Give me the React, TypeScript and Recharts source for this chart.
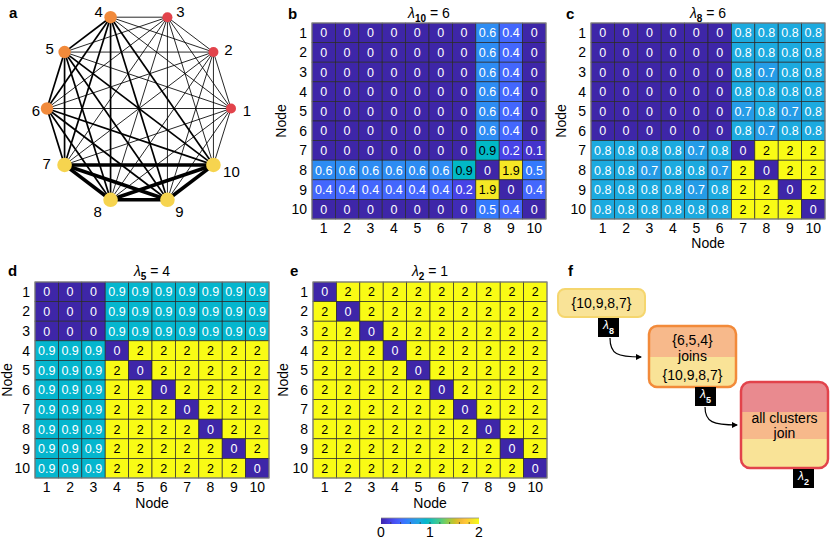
import React from 'react';
import {
  ScatterChart,
  Scatter,
  XAxis,
  YAxis,
  Area,
  ComposedChart,
} from 'recharts';

const FONT = '"Liberation Sans", Arial, Helvetica, sans-serif';

// ---------- Panel a: network ----------
const nodeIds = [1, 2, 3, 4, 5, 6, 7, 8, 9, 10];
const nodeAngleDeg = [0, 36, 72, 108, 144, 180, 216, 252, 288, 324];
const nodeCluster = [0, 0, 0, 1, 1, 1, 2, 2, 2, 2];
// edge strength class between clusters (1 = weak, 2 = medium, 3 = strong)
const clusterLinkClass = [
  [1, 1, 1],
  [1, 2, 2],
  [1, 2, 3],
];

// ---------- Heatmaps ----------
const nodeTicks = [1, 2, 3, 4, 5, 6, 7, 8, 9, 10];

const lambda10Matrix = [
  [0, 0, 0, 0, 0, 0, 0, 0.6, 0.4, 0],
  [0, 0, 0, 0, 0, 0, 0, 0.6, 0.4, 0],
  [0, 0, 0, 0, 0, 0, 0, 0.6, 0.4, 0],
  [0, 0, 0, 0, 0, 0, 0, 0.6, 0.4, 0],
  [0, 0, 0, 0, 0, 0, 0, 0.6, 0.4, 0],
  [0, 0, 0, 0, 0, 0, 0, 0.6, 0.4, 0],
  [0, 0, 0, 0, 0, 0, 0, 0.94, 0.2, 0.1],
  [0.6, 0.6, 0.6, 0.6, 0.6, 0.6, 0.94, 0, 1.9, 0.5],
  [0.4, 0.4, 0.4, 0.4, 0.4, 0.4, 0.2, 1.9, 0, 0.4],
  [0, 0, 0, 0, 0, 0, 0.04, 0.5, 0.4, 0],
];

const lambda8Matrix = [
  [0, 0, 0, 0, 0, 0, 0.8, 0.8, 0.8, 0.8],
  [0, 0, 0, 0, 0, 0, 0.8, 0.8, 0.8, 0.8],
  [0, 0, 0, 0, 0, 0, 0.8, 0.7, 0.8, 0.8],
  [0, 0, 0, 0, 0, 0, 0.8, 0.8, 0.8, 0.8],
  [0, 0, 0, 0, 0, 0, 0.7, 0.8, 0.7, 0.8],
  [0, 0, 0, 0, 0, 0, 0.8, 0.7, 0.8, 0.8],
  [0.8, 0.8, 0.8, 0.8, 0.7, 0.8, 0, 2, 2, 2],
  [0.8, 0.8, 0.7, 0.8, 0.8, 0.7, 2, 0, 2, 2],
  [0.8, 0.8, 0.8, 0.8, 0.7, 0.8, 2, 2, 0, 2],
  [0.8, 0.8, 0.8, 0.8, 0.8, 0.8, 2, 2, 2, 0],
];

const lambda5Matrix = [
  [0, 0, 0, 0.9, 0.9, 0.9, 0.9, 0.9, 0.9, 0.9],
  [0, 0, 0, 0.9, 0.9, 0.9, 0.9, 0.9, 0.9, 0.9],
  [0, 0, 0, 0.9, 0.9, 0.9, 0.9, 0.9, 0.9, 0.9],
  [0.9, 0.9, 0.9, 0, 2, 2, 2, 2, 2, 2],
  [0.9, 0.9, 0.9, 2, 0, 2, 2, 2, 2, 2],
  [0.9, 0.9, 0.9, 2, 2, 0, 2, 2, 2, 2],
  [0.9, 0.9, 0.9, 2, 2, 2, 0, 2, 2, 2],
  [0.9, 0.9, 0.9, 2, 2, 2, 2, 0, 2, 2],
  [0.9, 0.9, 0.9, 2, 2, 2, 2, 2, 0, 2],
  [0.9, 0.9, 0.9, 2, 2, 2, 2, 2, 2, 0],
];

const lambda2Matrix = [
  [0, 2, 2, 2, 2, 2, 2, 2, 2, 2],
  [2, 0, 2, 2, 2, 2, 2, 2, 2, 2],
  [2, 2, 0, 2, 2, 2, 2, 2, 2, 2],
  [2, 2, 2, 0, 2, 2, 2, 2, 2, 2],
  [2, 2, 2, 2, 0, 2, 2, 2, 2, 2],
  [2, 2, 2, 2, 2, 0, 2, 2, 2, 2],
  [2, 2, 2, 2, 2, 2, 0, 2, 2, 2],
  [2, 2, 2, 2, 2, 2, 2, 0, 2, 2],
  [2, 2, 2, 2, 2, 2, 2, 2, 0, 2],
  [2, 2, 2, 2, 2, 2, 2, 2, 2, 0],
];

const colorbarTicks = [0, 1, 2];
const colorbarMinorTicks = [0.2, 0.4, 0.6, 0.8, 1.0, 1.2, 1.4, 1.6, 1.8];
const colorbarRange = [0, 2];

// ---------- Parula colormap ----------
const PARULA: number[][] = [
  [0.2422, 0.1504, 0.6603], [0.2504, 0.165, 0.7076], [0.2578, 0.1818, 0.7511], [0.2647, 0.1978, 0.7952],
  [0.2706, 0.2147, 0.8364], [0.2751, 0.2342, 0.871], [0.2783, 0.2559, 0.8991], [0.2803, 0.2782, 0.9221],
  [0.2813, 0.3006, 0.9414], [0.281, 0.3228, 0.9579], [0.2795, 0.3447, 0.9717], [0.276, 0.3667, 0.9829],
  [0.2699, 0.3892, 0.9906], [0.2602, 0.4123, 0.9952], [0.244, 0.4358, 0.9988], [0.2206, 0.4603, 0.9973],
  [0.1963, 0.4847, 0.9892], [0.1834, 0.5074, 0.9798], [0.1786, 0.5289, 0.9682], [0.1764, 0.5499, 0.952],
  [0.1687, 0.5703, 0.9359], [0.154, 0.5902, 0.9218], [0.146, 0.6091, 0.9079], [0.138, 0.6276, 0.8973],
  [0.1248, 0.6459, 0.8883], [0.1113, 0.6635, 0.8763], [0.0952, 0.6798, 0.8598], [0.0689, 0.6948, 0.8394],
  [0.0297, 0.7082, 0.8163], [0.0036, 0.7203, 0.7917], [0.0067, 0.7312, 0.766], [0.0433, 0.7411, 0.7394],
  [0.0964, 0.75, 0.712], [0.1408, 0.7584, 0.6842], [0.1717, 0.767, 0.6554], [0.1938, 0.7758, 0.6251],
  [0.2161, 0.7843, 0.5923], [0.247, 0.7918, 0.5567], [0.2906, 0.7973, 0.5188], [0.3406, 0.8008, 0.4789],
  [0.3909, 0.8029, 0.4354], [0.4456, 0.8024, 0.3909], [0.5044, 0.7993, 0.348], [0.5616, 0.7942, 0.3045],
  [0.6174, 0.7876, 0.2612], [0.672, 0.7793, 0.2227], [0.7242, 0.7698, 0.191], [0.7738, 0.7598, 0.1646],
  [0.8203, 0.7498, 0.1535], [0.8634, 0.7406, 0.1596], [0.9035, 0.733, 0.1774], [0.9393, 0.7288, 0.21],
  [0.9728, 0.7298, 0.2394], [0.9956, 0.7434, 0.2371], [0.997, 0.7659, 0.2199], [0.9952, 0.7893, 0.2028],
  [0.9892, 0.8136, 0.1885], [0.9786, 0.8386, 0.1766], [0.9676, 0.8639, 0.1643], [0.961, 0.889, 0.1537],
  [0.9597, 0.9135, 0.1423], [0.9628, 0.9373, 0.1265], [0.9691, 0.9606, 0.1064], [0.9769, 0.9839, 0.0805],
];

function parula(t: number): string {
  const tt = Math.max(0, Math.min(1, t));
  const f = tt * (PARULA.length - 1);
  const i = Math.min(PARULA.length - 2, Math.floor(f));
  const fr = f - i;
  const c = PARULA[i].map((v, k) => v + (PARULA[i + 1][k] - v) * fr);
  return `rgb(${Math.round(c[0] * 255)},${Math.round(c[1] * 255)},${Math.round(c[2] * 255)})`;
}

function fmt(v: number): string {
  return String(Number(v.toFixed(1)));
}

// ---------- Panel a chart ----------
const nodePoints = nodeIds.map((id, i) => ({
  id,
  cluster: nodeCluster[i],
  x: Math.cos((nodeAngleDeg[i] * Math.PI) / 180),
  y: Math.sin((nodeAngleDeg[i] * Math.PI) / 180),
}));

const edges: { a: number; b: number; cls: number }[] = [];
for (let i = 0; i < nodeIds.length; i++) {
  for (let j = i + 1; j < nodeIds.length; j++) {
    edges.push({ a: i, b: j, cls: clusterLinkClass[nodeCluster[i]][nodeCluster[j]] });
  }
}
edges.sort((p, q) => p.cls - q.cls);

const EDGE_WIDTH: Record<number, number> = { 1: 0.85, 2: 1.7, 3: 3.6 };
const NODE_COLOR = ['#e2434b', '#f18a3b', '#f6d44f'];
const NODE_R = [5, 6.2, 7.3];
const LABEL_OFFSET: Record<number, [number, number]> = {
  1: [16, 2], 2: [15, -2], 3: [13, -6], 4: [-12, -6], 5: [-15, -3],
  6: [-11, 2], 7: [-18, -1], 8: [-13, 12], 9: [12, 12], 10: [18, 7],
};

const EmptyShape = () => <g />;

const NodeShape = (props: any) => {
  const { cx, cy, payload } = props;
  const off = LABEL_OFFSET[payload.id];
  return (
    <g>
      <circle cx={cx} cy={cy} r={NODE_R[payload.cluster]} fill={NODE_COLOR[payload.cluster]} />
      <text x={cx + off[0]} y={cy + off[1]} dy="0.36em" textAnchor="middle" fontSize={15} fill="#000">
        {payload.id}
      </text>
    </g>
  );
};

function NetworkPanel() {
  return (
    <div style={{ position: 'absolute', left: 0, top: 0 }}>
      <ScatterChart width={270} height={230} margin={{ top: 2.9, right: 11.4, left: 19.4, bottom: 15.9 }}>
        <XAxis type="number" dataKey="x" domain={[-1.3, 1.3]} hide />
        <YAxis type="number" dataKey="y" domain={[-1.1, 1.1]} hide />
        {edges.map((e, k) => (
          <Scatter
            key={`e${k}`}
            data={[nodePoints[e.a], nodePoints[e.b]]}
            line={{ stroke: '#000', strokeWidth: EDGE_WIDTH[e.cls] }}
            shape={EmptyShape}
            isAnimationActive={false}
          />
        ))}
        <Scatter data={nodePoints} shape={NodeShape} isAnimationActive={false} />
      </ScatterChart>
    </div>
  );
}

// ---------- Heatmap ----------
const GRID_W = 234;
const GRID_H = 196;
const CELL_W = GRID_W / 10;
const CELL_H = GRID_H / 10;

const CellShape = (props: any) => {
  const { cx, cy, payload } = props;
  const v = payload.v;
  return (
    <g>
      <rect
        x={cx - CELL_W / 2}
        y={cy - CELL_H / 2}
        width={CELL_W}
        height={CELL_H}
        fill={parula(v / 2)}
        stroke="#2a2a2a"
        strokeWidth={0.7}
      />
      <text x={cx} y={cy} dy="0.36em" textAnchor="middle" fontSize={12.5} fill={v >= 0.92 ? '#000' : '#fff'}>
        {fmt(v)}
      </text>
    </g>
  );
};

function Heatmap({ matrix, left, top }: { matrix: number[][]; left: number; top: number }) {
  const data: { x: number; y: number; v: number }[] = [];
  matrix.forEach((row, r) => row.forEach((v, c) => data.push({ x: c + 1, y: r + 1, v })));
  return (
    <div style={{ position: 'absolute', left: left - 40, top: top - 2 }}>
      <ScatterChart width={40 + GRID_W + 4} height={2 + GRID_H + 30} margin={{ top: 2, right: 4, left: 0, bottom: 0 }}>
        <XAxis
          type="number"
          dataKey="x"
          domain={[0.5, 10.5]}
          ticks={nodeTicks}
          interval={0}
          axisLine={false}
          tickLine={false}
          tickSize={0}
          tickMargin={4}
          height={30}
          tick={{ fontSize: 14, fill: '#000' }}
        />
        <YAxis
          type="number"
          dataKey="y"
          domain={[0.5, 10.5]}
          reversed
          ticks={nodeTicks}
          interval={0}
          axisLine={false}
          tickLine={false}
          tickSize={0}
          tickMargin={5}
          width={40}
          tick={{ fontSize: 14, fill: '#000' }}
        />
        <Scatter data={data} shape={CellShape} isAnimationActive={false} />
      </ScatterChart>
    </div>
  );
}

// ---------- Colorbar ----------
const MinorTickShape = (props: any) => {
  const { cx, cy } = props;
  return <line x1={cx} x2={cx} y1={cy} y2={cy - 2} stroke="#333" strokeWidth={0.7} />;
};

function Colorbar() {
  const barData = [
    { x: colorbarRange[0], v: 1 },
    { x: colorbarRange[1], v: 1 },
  ];
  const tickData = colorbarMinorTicks.map((t) => ({ x: t, v: 0 }));
  return (
    <div style={{ position: 'absolute', left: 370, top: 505 }}>
      <ComposedChart width={120} height={35} margin={{ top: 13, right: 11, left: 11, bottom: 0 }} data={barData}>
        <XAxis
          type="number"
          dataKey="x"
          domain={colorbarRange}
          ticks={colorbarTicks}
          interval={0}
          axisLine={false}
          tickLine={false}
          tickSize={0}
          tickMargin={3}
          height={16}
          tick={{ fontSize: 14, fill: '#000' }}
        />
        <YAxis type="number" dataKey="v" domain={[0, 1]} hide />
        <Area
          type="linear"
          dataKey="v"
          baseValue={0}
          fill="url(#parulaGrad)"
          fillOpacity={1}
          stroke="#8c8c8c"
          strokeWidth={0.8}
          isAnimationActive={false}
          dot={false}
          activeDot={false}
        />
        <Scatter data={tickData} dataKey="v" shape={MinorTickShape} isAnimationActive={false} />
      </ComposedChart>
    </div>
  );
}

// ---------- Overlay text & panel f ----------
function LambdaTitle({ x, y, sub, rest }: { x: number; y: number; sub: string; rest: string }) {
  return (
    <text x={x} y={y} textAnchor="middle" fontSize={14} fill="#000">
      <tspan fontStyle="italic">λ</tspan>
      <tspan dy={4} fontSize={10} fontWeight="bold">{sub}</tspan>
      <tspan dy={-4}>{'\u00a0= ' + rest}</tspan>
    </text>
  );
}

function Tag({ x, y, sub }: { x: number; y: number; sub: string }) {
  return (
    <g>
      <rect x={x} y={y} width={21} height={19} fill="#000" />
      <text x={x + 5} y={y + 11} fontSize={12} fill="#fff">
        <tspan fontStyle="italic">λ</tspan>
        <tspan dy={5} fontSize={9} fontWeight="bold">{sub}</tspan>
      </text>
    </g>
  );
}

function NodeLabelY({ cx, cy }: { cx: number; cy: number }) {
  return (
    <text transform={`translate(${cx},${cy}) rotate(-90)`} textAnchor="middle" dy="0.36em" fontSize={14} fill="#000">
      Node
    </text>
  );
}

function Overlay() {
  const Y = '#f9e397';
  const O = '#f7b98b';
  const P = '#e98a8f';
  const stops = [];
  for (let k = 0; k <= 20; k++) {
    stops.push(<stop key={k} offset={`${k * 5}%`} stopColor={parula(k / 20)} />);
  }
  return (
    <svg width={831} height={540} style={{ position: 'absolute', left: 0, top: 0, pointerEvents: 'none' }} fontFamily={FONT}>
      <defs>
        <linearGradient id="parulaGrad" x1="0" y1="0" x2="1" y2="0">
          {stops}
        </linearGradient>
        <marker id="arrowHead" markerWidth="6" markerHeight="6" refX="5" refY="3" orient="auto" markerUnits="userSpaceOnUse">
          <path d="M0,0 L6,3 L0,6 z" fill="#000" />
        </marker>
        <clipPath id="clipB2"><rect x={649} y={326} width={87} height={61} rx={8} /></clipPath>
        <clipPath id="clipB3"><rect x={741} y={382} width={87} height={86} rx={9} /></clipPath>
      </defs>

      {/* heatmap frames */}
      <g fill="none" stroke="#8c8c8c" strokeWidth={1}>
        <rect x={312} y={23} width={GRID_W} height={GRID_H} />
        <rect x={591} y={23} width={GRID_W} height={GRID_H} />
        <rect x={35} y={282} width={GRID_W} height={GRID_H} />
        <rect x={313} y={282} width={GRID_W} height={GRID_H} />
      </g>

      {/* panel letters */}
      <g fontSize={15} fontWeight="bold" fill="#000">
        <text x={9} y={18}>a</text>
        <text x={288} y={19}>b</text>
        <text x={566} y={19}>c</text>
        <text x={8} y={276}>d</text>
        <text x={290} y={276}>e</text>
        <text x={568} y={276}>f</text>
      </g>

      {/* titles */}
      <LambdaTitle x={429} y={18} sub="10" rest="6" />
      <LambdaTitle x={708} y={18} sub="8" rest="6" />
      <LambdaTitle x={152} y={276} sub="5" rest="4" />
      <LambdaTitle x={430} y={276} sub="2" rest="1" />

      {/* axis titles */}
      <NodeLabelY cx={281} cy={121} />
      <NodeLabelY cx={561} cy={121} />
      <NodeLabelY cx={7} cy={380} />
      <NodeLabelY cx={283} cy={380} />
      <text x={708} y={248} textAnchor="middle" fontSize={14} fill="#000">Node</text>
      <text x={152} y={508} textAnchor="middle" fontSize={14} fill="#000">Node</text>
      <text x={430} y={508} textAnchor="middle" fontSize={14} fill="#000">Node</text>

      {/* panel f */}
      <rect x={558} y={289} width={87} height={28} rx={7} fill={Y} stroke="#f5d66e" strokeWidth={2} />
      <text x={601.5} y={308} textAnchor="middle" fontSize={14} fill="#000">{'{10,9,8,7}'}</text>
      <Tag x={598} y={318} sub="8" />
      <path d="M610,338 C610,354 617,357 641,357" fill="none" stroke="#000" strokeWidth={1.2} markerEnd="url(#arrowHead)" />

      <g clipPath="url(#clipB2)">
        <rect x={649} y={326} width={87} height={31} fill={O} />
        <rect x={649} y={357} width={87} height={30} fill={Y} />
      </g>
      <rect x={649} y={326} width={87} height={61} rx={8} fill="none" stroke="#f28a3a" strokeWidth={2.5} />
      <text x={692.5} y={345} textAnchor="middle" fontSize={14} fill="#000">{'{6,5,4}'}</text>
      <text x={692.5} y={361} textAnchor="middle" fontSize={14} fill="#000">joins</text>
      <text x={692.5} y={380} textAnchor="middle" fontSize={14} fill="#000">{'{10,9,8,7}'}</text>
      <Tag x={695} y={387} sub="5" />
      <path d="M705,407 C705,422 713,425 737,425" fill="none" stroke="#000" strokeWidth={1.2} markerEnd="url(#arrowHead)" />

      <g clipPath="url(#clipB3)">
        <rect x={741} y={382} width={87} height={30} fill={P} />
        <rect x={741} y={412} width={87} height={27} fill={O} />
        <rect x={741} y={439} width={87} height={29} fill={Y} />
      </g>
      <rect x={741} y={382} width={87} height={86} rx={9} fill="none" stroke="#e2434b" strokeWidth={2.5} />
      <text x={784.5} y={423} textAnchor="middle" fontSize={14} fill="#000">all clusters</text>
      <text x={784.5} y={438} textAnchor="middle" fontSize={14} fill="#000">join</text>
      <Tag x={793} y={469} sub="2" />
    </svg>
  );
}

export default function App() {
  return (
    <div
      style={{
        position: 'absolute',
        left: 0,
        top: 0,
        width: 831,
        height: 540,
        background: '#fff',
        fontFamily: FONT,
        overflow: 'hidden',
      }}
    >
      <NetworkPanel />
      <Heatmap matrix={lambda10Matrix} left={312} top={23} />
      <Heatmap matrix={lambda8Matrix} left={591} top={23} />
      <Heatmap matrix={lambda5Matrix} left={35} top={282} />
      <Heatmap matrix={lambda2Matrix} left={313} top={282} />
      <Colorbar />
      <Overlay />
    </div>
  );
}
